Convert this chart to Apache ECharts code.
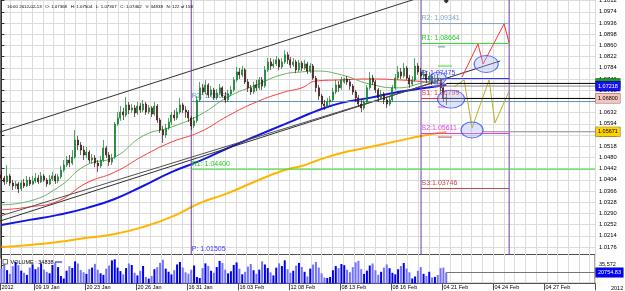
<!DOCTYPE html>
<html>
<head>
<meta charset="utf-8">
<script src="https://cdn.jsdelivr.net/npm/echarts@6/dist/echarts.min.js"></script>
<style>
html, body { margin: 0; padding: 0; background: #fff; }
#chart { width: 625px; height: 291px; }
</style>
</head>
<body>
<div id="chart"></div>
<script>
var FONT = 'Liberation Sans';

// x axis: 210 slots, labels every 18 bars
var barCount = 210;
var labelIdx = [0, 12, 30, 48, 66, 84, 102, 120, 138, 156, 174, 192];
var labelText = ['2012', '09 19 Jan', '20 23 Jan', '20 26 Jan', '16 31 Jan', '16 03 Feb',
                 '12 08 Feb', '08 13 Feb', '08 16 Feb', '04 21 Feb', '04 24 Feb', '04 27 Feb'];

// price axis
var priceMin = 1.0138;
var priceMax = 1.1050;
var priceStep = 0.0038;

// candles: open, close, low, high
var candles = [
[1.0420,1.0410,1.0400,1.0437],[1.0410,1.0397,1.0386,1.0417],[1.0397,1.0417,1.0390,1.0454],[1.0417,1.0393,1.0383,1.0424],
[1.0393,1.0383,1.0369,1.0403],[1.0383,1.0390,1.0373,1.0400],[1.0390,1.0373,1.0359,1.0397],[1.0373,1.0393,1.0366,1.0403],
[1.0393,1.0383,1.0376,1.0407],[1.0383,1.0403,1.0380,1.0417],
[1.0403,1.0390,1.0383,1.0414],[1.0390,1.0400,1.0386,1.0417],[1.0400,1.0410,1.0393,1.0427],[1.0410,1.0397,1.0390,1.0420],
[1.0397,1.0417,1.0393,1.0430],[1.0417,1.0403,1.0397,1.0424],[1.0403,1.0390,1.0380,1.0410],[1.0390,1.0407,1.0386,1.0420],
[1.0407,1.0417,1.0400,1.0430],[1.0417,1.0400,1.0390,1.0424],
[1.0400,1.0414,1.0393,1.0424],[1.0414,1.0437,1.0407,1.0451],[1.0437,1.0454,1.0430,1.0471],[1.0454,1.0471,1.0447,1.0485],
[1.0471,1.0461,1.0447,1.0488],[1.0461,1.0481,1.0454,1.0505],[1.0481,1.0539,1.0475,1.0573],[1.0539,1.0522,1.0505,1.0553],
[1.0522,1.0505,1.0488,1.0532],[1.0505,1.0488,1.0471,1.0519],
[1.0488,1.0498,1.0478,1.0515],[1.0498,1.0471,1.0461,1.0505],[1.0471,1.0478,1.0458,1.0492],[1.0478,1.0461,1.0447,1.0488],
[1.0461,1.0451,1.0430,1.0471],[1.0451,1.0471,1.0444,1.0485],[1.0471,1.0512,1.0464,1.0539],[1.0512,1.0488,1.0478,1.0519],
[1.0488,1.0464,1.0451,1.0498],[1.0464,1.0478,1.0454,1.0492],
[1.0481,1.0593,1.0475,1.0600],[1.0593,1.0614,1.0587,1.0634],[1.0614,1.0634,1.0604,1.0654],[1.0634,1.0624,1.0607,1.0648],
[1.0624,1.0658,1.0617,1.0685],[1.0658,1.0641,1.0627,1.0668],[1.0641,1.0648,1.0631,1.0661],[1.0648,1.0631,1.0617,1.0658],
[1.0631,1.0654,1.0624,1.0668],[1.0654,1.0641,1.0631,1.0665],
[1.0641,1.0661,1.0634,1.0675],[1.0661,1.0634,1.0624,1.0668],[1.0634,1.0648,1.0627,1.0658],[1.0648,1.0627,1.0617,1.0654],
[1.0627,1.0654,1.0621,1.0668],[1.0654,1.0607,1.0597,1.0661],[1.0607,1.0573,1.0563,1.0614],[1.0573,1.0556,1.0529,1.0587],
[1.0556,1.0580,1.0546,1.0593],[1.0580,1.0600,1.0573,1.0614],
[1.0600,1.0624,1.0590,1.0634],[1.0624,1.0614,1.0604,1.0641],[1.0614,1.0634,1.0607,1.0648],[1.0634,1.0658,1.0627,1.0682],
[1.0658,1.0641,1.0631,1.0665],[1.0641,1.0634,1.0614,1.0654],[1.0634,1.0614,1.0600,1.0641],[1.0614,1.0587,1.0573,1.0621],
[1.0587,1.0604,1.0580,1.0617],[1.0604,1.0675,1.0597,1.0688],
[1.0675,1.0716,1.0668,1.0736],[1.0716,1.0702,1.0692,1.0729],[1.0702,1.0726,1.0695,1.0743],[1.0726,1.0692,1.0682,1.0732],
[1.0692,1.0709,1.0685,1.0722],[1.0709,1.0682,1.0675,1.0716],[1.0682,1.0699,1.0675,1.0712],[1.0699,1.0716,1.0692,1.0729],
[1.0716,1.0688,1.0682,1.0722],[1.0688,1.0675,1.0665,1.0702],
[1.0675,1.0695,1.0668,1.0709],[1.0695,1.0709,1.0688,1.0722],[1.0709,1.0743,1.0702,1.0753],[1.0743,1.0770,1.0736,1.0787],
[1.0770,1.0760,1.0746,1.0783],[1.0760,1.0777,1.0753,1.0790],[1.0777,1.0736,1.0729,1.0783],[1.0736,1.0716,1.0702,1.0746],
[1.0716,1.0702,1.0692,1.0726],[1.0702,1.0726,1.0695,1.0736],
[1.0726,1.0716,1.0705,1.0743],[1.0716,1.0743,1.0709,1.0753],[1.0743,1.0722,1.0709,1.0753],[1.0722,1.0777,1.0716,1.0790],
[1.0777,1.0804,1.0770,1.0817],[1.0804,1.0790,1.0777,1.0817],[1.0790,1.0797,1.0783,1.0814],[1.0797,1.0811,1.0790,1.0824],
[1.0811,1.0787,1.0777,1.0817],[1.0787,1.0804,1.0780,1.0817],
[1.0804,1.0828,1.0797,1.0844],[1.0828,1.0811,1.0797,1.0838],[1.0811,1.0794,1.0783,1.0821],[1.0794,1.0804,1.0787,1.0817],
[1.0804,1.0777,1.0766,1.0811],[1.0777,1.0800,1.0770,1.0811],[1.0800,1.0783,1.0773,1.0807],[1.0783,1.0797,1.0777,1.0811],
[1.0797,1.0773,1.0763,1.0804],[1.0773,1.0790,1.0766,1.0800],
[1.0790,1.0749,1.0743,1.0797],[1.0749,1.0716,1.0702,1.0756],[1.0716,1.0688,1.0675,1.0726],[1.0688,1.0661,1.0648,1.0695],
[1.0661,1.0654,1.0641,1.0675],[1.0654,1.0668,1.0648,1.0682],[1.0668,1.0675,1.0658,1.0688],[1.0675,1.0702,1.0668,1.0716],
[1.0702,1.0726,1.0695,1.0743],[1.0726,1.0716,1.0702,1.0739],
[1.0716,1.0743,1.0709,1.0753],[1.07368,1.07462,1.07307,1.07504],[1.0746,1.0736,1.0726,1.0756],[1.0736,1.0722,1.0709,1.0746],
[1.0722,1.0702,1.0692,1.0729],[1.0702,1.0682,1.0668,1.0709],[1.0682,1.0661,1.0651,1.0692],[1.0661,1.0648,1.0634,1.0675],
[1.0648,1.0668,1.0641,1.0682],[1.0668,1.0716,1.0661,1.0726],
[1.0716,1.0749,1.0709,1.0770],[1.0749,1.0736,1.0726,1.0760],[1.0736,1.0709,1.0699,1.0743],[1.0709,1.0682,1.0668,1.0716],
[1.0682,1.0695,1.0675,1.0709],[1.0695,1.0675,1.0661,1.0702],[1.0675,1.0661,1.0648,1.0685],[1.0661,1.0675,1.0654,1.0688],
[1.0675,1.0716,1.0668,1.0726],[1.0716,1.0749,1.0709,1.0763],
[1.0749,1.0770,1.0743,1.0790],[1.0770,1.0756,1.0746,1.0783],[1.0756,1.0783,1.0749,1.0800],[1.0783,1.0749,1.0743,1.0790],
[1.0749,1.0729,1.0716,1.0760],[1.0729,1.0743,1.0722,1.0756],[1.0743,1.0790,1.0736,1.0817],[1.0790,1.0770,1.0760,1.0800],
[1.0770,1.0756,1.0743,1.0783],[1.0756,1.0763,1.0746,1.0777],
[1.0763,1.0743,1.0732,1.0773],[1.0743,1.0756,1.0736,1.0770],[1.0756,1.0736,1.0726,1.0763],[1.0736,1.0749,1.0729,1.0760],
[1.0749,1.0743,1.0729,1.0763],[1.0743,1.0716,1.0705,1.0749],[1.0716,1.0682,1.0668,1.0722],[1.0682,1.0680,1.0658,1.0695]
];

var volume = [
28400,37100,25300,18200,33000,41200,35100,24300,20100,16200,
30300,36400,27100,31000,38200,26400,22100,19300,35200,40100,
31200,14100,9200,24300,33100,29400,42200,38100,25300,21200,
18100,27300,30200,37400,26100,19200,16300,28100,34200,44100,
46200,30100,23400,17200,29300,38100,35200,20300,15100,24200,
33300,12200,9100,14300,27200,31100,39300,45100,28200,22300,
17100,25200,36300,41100,30400,21200,18300,26100,34300,12100,
10200,29100,38300,33200,24100,20300,31200,43100,39200,26300,
19100,23200,35300,40200,28100,17300,22200,32100,37300,25200,
18200,26300,42100,36200,29300,21100,15200,30100,38300,33100,
44200,27100,20300,24200,34100,39200,31300,22100,13200,28300,
36100,41200,30300,19100,11200,10100,12300,25100,33200,29200,
37100,34838,26200,21300,31100,40300,43200,27300,18100,24300,
34200,38100,25200,16300,22100,30200,36300,29100,20200,17300,
27100,33200,39100,28300,21200,9300,13100,24200,31300,18200,
14300,22100,11200,12300,16100,29200,30300,20754
];

// moving averages read at these bars
var maBars = [0, 10, 20, 30, 40, 50, 60, 70, 80, 90, 100, 106, 111, 120, 130, 140, 150, 157];
var maGreen = [1.0319,1.0332,1.0378,1.0454,1.0481,1.0553,1.0583,1.0624,1.0685,1.0726,1.0763,1.0770,1.0773,1.0760,1.0729,1.0716,1.0736,1.0743];
var maRed = [1.0302,1.0312,1.0332,1.0393,1.0430,1.0485,1.0532,1.0566,1.0621,1.0668,1.0702,1.0716,1.0739,1.0743,1.0746,1.0743,1.0736,1.0729];
var maBlue = [1.0251,1.0268,1.0285,1.0308,1.0339,1.0383,1.0430,1.0468,1.0512,1.0553,1.0593,1.0617,1.0637,1.0665,1.0682,1.0702,1.0716,1.0726];
var maOrange = [1.0176,1.0183,1.0193,1.0207,1.0220,1.0244,1.0278,1.0325,1.0359,1.0400,1.0437,1.0451,1.0468,1.0495,1.0515,1.0536,1.0556,1.0566];

// trend channel
var trendUpper = [[-0.5, 1.0566], [158.3, 1.1055]];
var trendLower1 = [[-0.5, 1.0264], [176, 1.0807]];
var trendLower2 = [[-0.5, 1.0281], [153.4, 1.0736]];

// day separators (bars)
var separators = [67, 148.1, 179.2];

// pivot levels, week 1 (from separator 0 to right edge)
var piv1Text = ['R2: 1.06695', 'R1: 1.04400', 'P: 1.01505'];
var piv1Value = [1.06695, 1.04400, 1.01505];
// pivot levels, this day (separator 1 to separator 2)
var piv2Text = ['R2: 1.09341', 'R1: 1.08664', 'P: 1.07475', 'S1: 1.06799', 'S2:1.05611', 'S3:1.03746'];
var piv2Value = [1.09341, 1.08664, 1.07475, 1.06799, 1.05611, 1.03746];

// short level marks
var dashFrom = [154.1, 154.1, 154.1, 154.1];
var dashTo = [156.6, 159.0, 156.6, 159.0];
var dashValue = [1.0855, 1.0790, 1.0651, 1.0549];

// projected paths
var zigRed = [[162.6, 1.0753], [168.2, 1.0865], [170.0, 1.0797], [177.4, 1.0933], [179.2, 1.0868]];
var zigOlive = [[159.8, 1.0719], [163.3, 1.0743], [166.1, 1.0580], [172.1, 1.0743], [174.2, 1.0597], [179.2, 1.0705]];
var ellipses = [[171.1, 1.0797], [158.7, 1.0678], [166.1, 1.0573], [154.1, 1.0749]];
var topMark = [[157, 1.1011]];

// price markers at right axis
var markFrom = [157, 152, 155.5, 170];
var markValue = [1.0731, 1.0722, 1.0680, 1.0567];
var markText = ['1.07310', '1.07218', '1.06800', '1.05671'];
var volMarkFrom = 157;
var volMarkValue = 20754.83;
var volMarkText = '20754.83';
var volTick = 35572;
var volMax = 55400;

var headerText = '16:00 2012-02-13   O: 1.07368   H: 1.07504   L: 1.07307   C: 1.07462   V: 34838   N: 122 of 158';

// ---------- build ----------
var categories = [];
for (var i = 0; i < barCount; i++) {
    var k = labelIdx.indexOf(i);
    categories.push(k >= 0 ? labelText[k] : '');
}
function isLabel(index) { return labelIdx.indexOf(index) >= 0; }

function pairs(xs, ys) {
    var out = [];
    for (var i = 0; i < xs.length; i++) out.push([xs[i], ys[i]]);
    return out;
}

var volData = volume.map(function (v, i) {
    var c = candles[i];
    return { value: v, itemStyle: { color: c[1] >= c[0] ? '#0000f0' : '#7272ff' } };
});

function plainLine(data, color, width, smooth) {
    return {
        type: 'line', xAxisIndex: 1, yAxisIndex: 0, data: data,
        symbol: 'none', smooth: smooth || false, silent: true,
        lineStyle: { color: color, width: width }, z: 3
    };
}

function levelLine(x1, x2, v, color, text, textColor) {
    var first = { value: [x1, v] };
    if (text) {
        first.label = {
            show: true, formatter: text, position: 'right', distance: 0, offset: [0, -5],
            color: textColor, fontSize: 7, fontFamily: FONT
        };
    }
    return {
        type: 'line', xAxisIndex: 1, yAxisIndex: 0, silent: true,
        symbol: 'rect', symbolSize: 1, showSymbol: true,
        itemStyle: { color: 'rgba(0,0,0,0)' },
        lineStyle: { color: color, width: 1 },
        data: [first, [x2, v]], z: 3
    };
}

function axisMarker(x1, v, lineColor, text, bg, fg, border, xIdx, yIdx) {
    return {
        type: 'line', xAxisIndex: xIdx, yAxisIndex: yIdx, silent: true,
        symbol: 'none', lineStyle: { color: lineColor, width: 1 },
        data: [[x1, v], [209.5, v]],
        endLabel: {
            show: true, formatter: text, distance: 1, color: fg, backgroundColor: bg,
            borderColor: border, borderWidth: 0.6, padding: [2, 2, 1, 2],
            fontSize: 5.5, fontFamily: FONT
        },
        z: 5
    };
}

var series = [];

// moving averages
series.push(plainLine(pairs(maBars, maOrange), '#ffb400', 2, true));
series.push(plainLine(pairs(maBars, maBlue), '#1414e6', 2, true));
series.push(plainLine(pairs(maBars, maRed), '#ff3b3b', 1, true));
series.push(plainLine(pairs(maBars, maGreen), '#63b463', 1, true));

// channel
series.push(plainLine(trendUpper, '#303030', 1));
series.push(plainLine(trendLower1, '#303030', 1));
series.push(plainLine(trendLower2, '#505050', 1));

// separators
separators.forEach(function (b) {
    series.push(plainLine([[b, 1.0152], [b, priceMax]], '#6a3fa8', 1));
});

// pivots (the weekly P line sits on the pane border, only its label shows)
var piv1Colors = ['#5f8fb0', '#33dd33', 'rgba(0,0,0,0)'];
var piv1Label = ['#6c9cc0', '#22cc22', '#3a3aff'];
for (var a = 0; a < piv1Value.length; a++) {
    series.push(levelLine(separators[0], 209.5, piv1Value[a], piv1Colors[a], piv1Text[a], piv1Label[a]));
}
var piv2Colors = ['#7fa6c2', '#33dd33', '#2a2aff', '#ff2a2a', '#e040e0', '#c04848'];
var piv2Label = ['#7fa6c2', '#22cc22', '#3a3aff', '#ff2a2a', '#e040e0', '#c04848'];
for (var b2 = 0; b2 < piv2Value.length; b2++) {
    series.push(levelLine(separators[1], separators[2], piv2Value[b2], piv2Colors[b2], piv2Text[b2], piv2Label[b2]));
}

// short marks
var dashColors = ['#5f8fb0', '#33dd33', '#e040e0', '#c04848'];
for (var d = 0; d < dashValue.length; d++) {
    series.push(plainLine([[dashFrom[d], dashValue[d]], [dashTo[d], dashValue[d]]], dashColors[d], 1));
}

// candles
series.push({
    type: 'candlestick', xAxisIndex: 0, yAxisIndex: 0, data: candles,
    barWidth: 1.4, silent: true,
    itemStyle: {
        color: '#0b7d28', color0: '#3a1010',
        borderColor: '#0b7d28', borderColor0: '#3a1010', borderWidth: 0.7
    },
    z: 4
});

// projections
series.push(plainLine(zigRed, '#ff3030', 1));
series.push(plainLine(zigOlive, '#b8b020', 1));
var ellipseSize = [[24, 17], [27, 18], [22, 16], [16, 12]];
series.push({
    type: 'scatter', xAxisIndex: 1, yAxisIndex: 0, silent: true,
    data: ellipses.map(function (e, i) { return { value: e, symbolSize: ellipseSize[i] }; }),
    symbol: 'circle',
    itemStyle: { color: 'rgba(170,180,240,0.45)', borderColor: '#2f4cff', borderWidth: 1 },
    z: 6
});
series.push({
    type: 'scatter', xAxisIndex: 1, yAxisIndex: 0, silent: true, data: topMark,
    symbol: 'diamond', symbolSize: 5, itemStyle: { color: '#000' }, z: 6
});

// right axis markers
series.push(axisMarker(markFrom[0], markValue[0], '#000000', markText[0], '#15a015', '#ffffff', '#0b600b', 1, 0));
series.push(axisMarker(markFrom[1], markValue[1], '#8a8a8a', markText[1], '#1414f0', '#ffffff', '#000080', 1, 0));
series.push(axisMarker(markFrom[2], markValue[2], '#000000', markText[2], '#f3c7c1', '#000000', '#a06060', 1, 0));
series.push(axisMarker(markFrom[3], markValue[3], '#8a8a8a', markText[3], '#ffd200', '#000000', '#8a6a00', 1, 0));

// volume
series.push({
    type: 'bar', xAxisIndex: 3, yAxisIndex: 2, data: volData, barWidth: 2, silent: true, z: 3
});
series.push(axisMarker(volMarkFrom, volMarkValue, '#777777', volMarkText, '#0000ff', '#ffffff', '#000080', 4, 2));

var gridLine = { show: true, lineStyle: { color: '#dcdcdc', width: 1 } };
var off = { show: false };

var option = {
    animation: false,
    backgroundColor: '#ffffff',
    textStyle: { fontFamily: FONT },
    grid: [
        { left: 0, right: 30, top: -10.6, height: 268.8, show: false, containLabel: false, outerBoundsMode: 'none' },
        { left: 0, right: 30, top: 254.5, height: 28.8, show: true, borderColor: '#505050', borderWidth: 1,
          backgroundColor: 'transparent', containLabel: false, outerBoundsMode: 'none' }
    ],
    xAxis: [
        { type: 'category', gridIndex: 0, data: categories, boundaryGap: true, show: false },
        { type: 'value', gridIndex: 0, min: -0.5, max: barCount - 0.5, show: false },
        { type: 'value', gridIndex: 0, min: 0, max: 55.5, interval: 1, axisLine: off, axisTick: off,
          axisLabel: off, splitLine: gridLine },
        { type: 'category', gridIndex: 1, data: categories, boundaryGap: true,
          axisLine: { show: true, lineStyle: { color: '#505050' } },
          axisTick: { show: true, interval: isLabel, length: 7, lineStyle: { color: '#505050' } },
          axisLabel: { show: true, interval: isLabel, align: 'left', margin: 1.5, fontSize: 5.5,
                       color: '#000', fontFamily: FONT },
          splitLine: off },
        { type: 'value', gridIndex: 1, min: -0.5, max: barCount - 0.5, show: false },
        { type: 'value', gridIndex: 1, min: 0, max: 55.5, interval: 1, axisLine: off, axisTick: off,
          axisLabel: off, splitLine: gridLine }
    ],
    yAxis: [
        { type: 'value', gridIndex: 0, position: 'right', min: priceMin, max: priceMax, interval: priceStep,
          axisLine: { show: true, lineStyle: { color: '#303030' } },
          axisTick: { show: true, length: 3, lineStyle: { color: '#303030' } },
          axisLabel: { show: true, margin: 4, fontSize: 5.8, color: '#000', fontFamily: FONT,
                       showMinLabel: false, showMaxLabel: false,
                       formatter: function (v) { return v.toFixed(4); } },
          splitLine: { show: true, showMinLine: false, showMaxLine: false,
                       lineStyle: { color: '#dcdcdc', width: 1 } } },
        { type: 'value', gridIndex: 0, position: 'left', min: priceMin, max: priceMax,
          axisLine: { show: true, lineStyle: { color: '#707070' } },
          axisTick: off, axisLabel: off, splitLine: off },
        { type: 'value', gridIndex: 1, position: 'right', min: 0, max: volMax, interval: volTick,
          axisLine: { show: true, lineStyle: { color: '#303030' } },
          axisTick: { show: true, length: 3, lineStyle: { color: '#303030' } },
          axisLabel: { show: true, margin: 4, fontSize: 5.5, color: '#000', fontFamily: FONT,
                       showMinLabel: false, showMaxLabel: false },
          splitLine: off }
    ],
    graphic: [
        { type: 'text', left: 7, top: 4.5, silent: true, z: 20,
          style: { text: headerText, fontSize: 4.4, fontFamily: FONT, fill: '#000' } },
        { type: 'text', left: 611, top: 285, silent: true, z: 20,
          style: { text: '2012', fontSize: 5.5, fontFamily: FONT, fill: '#000' } },
        { type: 'rect', silent: true, z: 20, shape: { x: 3, y: 259.5, width: 4.5, height: 4.5 },
          style: { fill: '#fff', stroke: '#505050', lineWidth: 0.8 } },
        { type: 'text', left: 10.5, top: 259, silent: true, z: 20,
          style: { text: 'VOLUME : 34838', fontSize: 5.5, fontFamily: FONT, fill: '#000' } },
        { type: 'line', silent: true, z: 20, shape: { x1: 55, y1: 262, x2: 62, y2: 262 },
          style: { stroke: '#0000ff', lineWidth: 1 } }
    ],
    series: series
};

var myChart = echarts.init(document.getElementById('chart'));
myChart.setOption(option);
</script>
</body>
</html>
